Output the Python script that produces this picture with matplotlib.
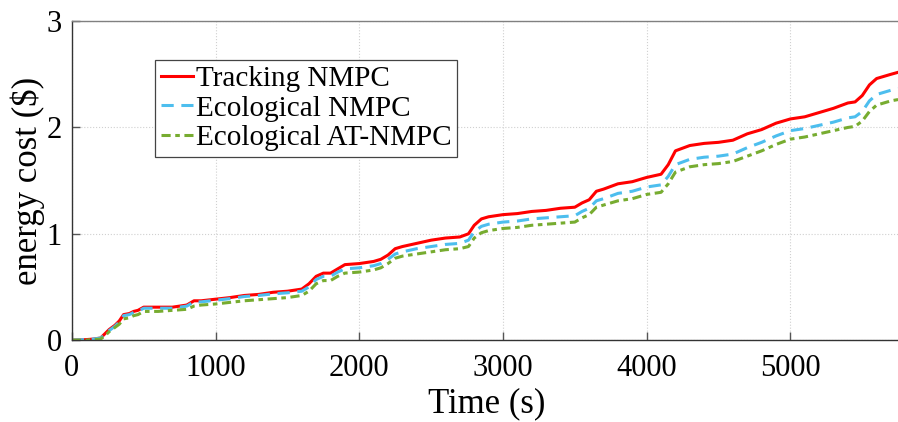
import matplotlib.pyplot as plt

plt.rcParams['font.family'] = ['Liberation Serif', 'DejaVu Serif']
plt.rcParams['mathtext.fontset'] = 'stix'

# time points (s)
t = [0, 100, 150, 200, 230, 260, 300, 330, 360, 400, 430, 460, 500, 550, 600, 700,
     800, 850, 900, 1000, 1100, 1200, 1300, 1400, 1500, 1600, 1650, 1700, 1750, 1800,
     1850, 1900, 2000, 2100, 2150, 2200, 2250, 2300, 2400, 2500, 2600, 2700, 2760,
     2800, 2850, 2900, 3000, 3100, 3200, 3300, 3400, 3500, 3550, 3600, 3650, 3700,
     3800, 3900, 4000, 4100, 4150, 4200, 4300, 4400, 4500, 4600, 4700, 4800, 4900,
     5000, 5100, 5200, 5300, 5400, 5450, 5500, 5550, 5600, 5700, 5780]

tracking = [0, 0.005, 0.01, 0.02, 0.06, 0.1, 0.14, 0.18, 0.24, 0.25, 0.27, 0.28, 0.31,
            0.31, 0.31, 0.31, 0.33, 0.37, 0.37, 0.385, 0.40, 0.42, 0.43, 0.45, 0.46,
            0.48, 0.53, 0.60, 0.63, 0.63, 0.67, 0.71, 0.72, 0.74, 0.76, 0.80, 0.86,
            0.88, 0.91, 0.94, 0.96, 0.97, 1.00, 1.08, 1.14, 1.16, 1.18, 1.19, 1.21,
            1.22, 1.24, 1.25, 1.29, 1.32, 1.40, 1.42, 1.47, 1.49, 1.53, 1.56, 1.65,
            1.78, 1.83, 1.85, 1.86, 1.88, 1.94, 1.98, 2.04, 2.08, 2.10, 2.14, 2.18,
            2.23, 2.24, 2.30, 2.40, 2.46, 2.50, 2.53]

ecological = [0, 0.005, 0.01, 0.02, 0.05, 0.09, 0.13, 0.17, 0.23, 0.24, 0.26, 0.27, 0.30,
              0.30, 0.30, 0.30, 0.32, 0.36, 0.36, 0.375, 0.39, 0.41, 0.42, 0.435, 0.445,
              0.46, 0.50, 0.57, 0.60, 0.60, 0.64, 0.67, 0.68, 0.70, 0.72, 0.76, 0.81,
              0.83, 0.86, 0.88, 0.90, 0.91, 0.94, 1.02, 1.07, 1.09, 1.11, 1.12, 1.14,
              1.15, 1.16, 1.17, 1.21, 1.24, 1.31, 1.33, 1.38, 1.40, 1.44, 1.46, 1.54,
              1.65, 1.70, 1.72, 1.73, 1.75, 1.81, 1.86, 1.92, 1.97, 1.99, 2.02, 2.05,
              2.09, 2.10, 2.15, 2.25, 2.31, 2.35, 2.37]

eco_at = [0, 0.0, 0.005, 0.01, 0.04, 0.08, 0.12, 0.15, 0.20, 0.21, 0.23, 0.24, 0.27,
          0.27, 0.27, 0.28, 0.29, 0.32, 0.33, 0.34, 0.355, 0.37, 0.38, 0.39, 0.40,
          0.42, 0.46, 0.53, 0.56, 0.56, 0.60, 0.63, 0.64, 0.66, 0.68, 0.72, 0.77,
          0.79, 0.81, 0.83, 0.85, 0.86, 0.88, 0.96, 1.01, 1.03, 1.05, 1.06, 1.08,
          1.09, 1.10, 1.11, 1.15, 1.18, 1.25, 1.27, 1.31, 1.33, 1.37, 1.39, 1.47,
          1.58, 1.63, 1.65, 1.66, 1.68, 1.73, 1.78, 1.84, 1.89, 1.91, 1.94, 1.97,
          2.00, 2.01, 2.06, 2.15, 2.21, 2.25, 2.27]

fig = plt.figure(figsize=(8.98, 4.22), dpi=100)
ax = fig.add_axes([0.080, 0.194, 0.925, 0.756])

ax.plot(t, tracking, color='#ff0000', lw=2.2, label='Tracking NMPC')
ax.plot(t, ecological, color='#4dbeee', lw=2.2, dashes=(4, 2.5), label='Ecological NMPC')
ax.plot(t, eco_at, color='#77ac30', lw=2.2, dashes=(3, 1.5, 1.5, 1.5), label='Ecological AT-NMPC')

ax.set_xlim(0, 5780)
ax.set_ylim(0, 3)
ax.set_xticks([0, 1000, 2000, 3000, 4000, 5000])
ax.set_yticks([0, 1, 2, 3])
ax.grid(True, linestyle=':', color='#d0d0d0', lw=0.8)
ax.tick_params(direction='in', labelsize=22, length=6, width=1, color='#555555')
ax.tick_params(axis='x', pad=10)
ax.tick_params(axis='y', pad=7)
for s in ax.spines.values():
    s.set_color('#808080')
    s.set_linewidth(1)
ax.spines['left'].set_color('#333333')
ax.spines['bottom'].set_color('#333333')

ax.set_xlabel('Time (s)', fontsize=25, labelpad=3)
ax.set_ylabel('energy cost ($)', fontsize=25, labelpad=1)

leg = ax.legend(loc='upper left', bbox_to_anchor=(0.10, 0.878), fontsize=21,
                handlelength=1.1, handletextpad=0.1, borderpad=0.2, labelspacing=0.1,
                borderaxespad=0, fancybox=False, framealpha=1)
leg.get_frame().set_edgecolor('#444444')
leg.get_frame().set_linewidth(0.9)

fig.savefig('out.png', dpi=100)
